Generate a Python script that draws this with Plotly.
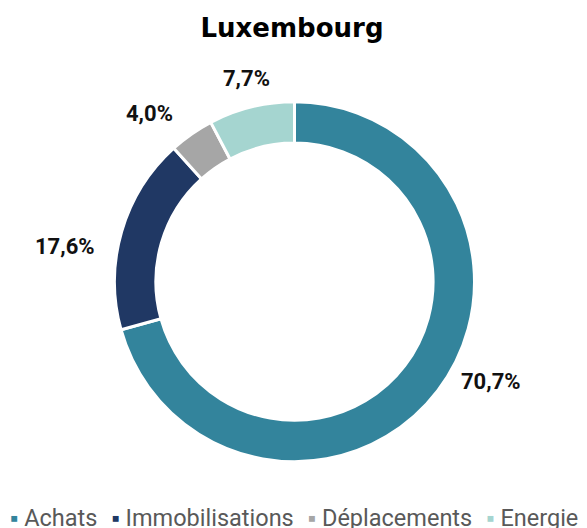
import math
import plotly.graph_objects as go

title = "Luxembourg"
categories = ["Achats", "Immobilisations", "Déplacements", "Energie"]
values = [70.7, 17.6, 4.0, 7.7]
colors = ["#33849C", "#203864", "#A6A6A6", "#A5D5D0"]

# the page body has an 8px margin, so the figure is drawn 8px in from the window corner
OFF = 8
W, H = 587 - OFF, 528 - OFF
cx, cy, R = 294.5 - OFF, 281.7 - OFF, 180.0

fig = go.Figure(go.Pie(
    labels=categories,
    values=values,
    sort=False,
    direction="clockwise",
    rotation=0,
    hole=0.77,
    marker=dict(colors=colors, line=dict(color="white", width=3)),
    textinfo="none",
    showlegend=False,
    hoverinfo="label+value",
    domain=dict(x=[(cx - R) / W, (cx + R) / W], y=[(H - cy - R) / H, (H - cy + R) / H]),
))

# percentage labels placed outside the ring, at each slice's mid-angle
# (side labels are pulled a little toward the horizontal, as in the reference)
annotations = []
total = sum(values)
cum = 0.0
R_lab = R + 20
for v in values:
    mid = (cum + v / 2) / total
    cum += v
    th = 2 * math.pi * mid
    s, c = math.sin(th), math.cos(th)
    flat = 1 - 0.6 * max(0.0, s * s - 0.3)
    px, py = R_lab * s, -R_lab * c * flat
    if s > 0.3:
        xa, xs = "left", 5
    elif s < -0.3:
        xa, xs = "right", -5
    else:
        xa, xs = "center", 0
    dy = 10 / (1 + (px * px) / (py * py)) if py != 0 else 0
    ys = dy if py < 0 else -dy
    pct = f"{v:.1f}".replace(".", ",") + "%"
    annotations.append(dict(
        text=f"<b>{pct}</b>", xref="paper", yref="paper",
        x=(cx + px) / W, y=1 - (cy + py) / H, xanchor=xa, yanchor="middle",
        xshift=xs, yshift=ys, showarrow=False,
        font=dict(family="Roboto", size=22, color="#111111"),
    ))

# legend drawn as one text line (it overflows the right edge, as in the reference)
legend_text = "  \u200a".join(
    f"<span style='color:{c}'>▪</span> {lab}" for lab, c in zip(categories, colors)
)
annotations.append(dict(
    text=legend_text, xref="paper", yref="paper", x=(8 - OFF) / W, y=1 - (518 - OFF) / H,
    xanchor="left", yanchor="middle", showarrow=False, align="left",
    font=dict(family="Roboto", size=23.5, color="#595959"),
))

fig.update_layout(
    width=W, height=H,
    margin=dict(l=0, r=0, t=0, b=0),
    paper_bgcolor="white",
    plot_bgcolor="white",
    title=dict(text=f"<b>{title}</b>", x=(292 - OFF) / W, xanchor="center",
               y=1 - (28 - OFF) / H, yanchor="middle",
               font=dict(family="DejaVu Sans", size=26, color="#000000")),
    annotations=annotations,
)

fig.write_html("out.html")
